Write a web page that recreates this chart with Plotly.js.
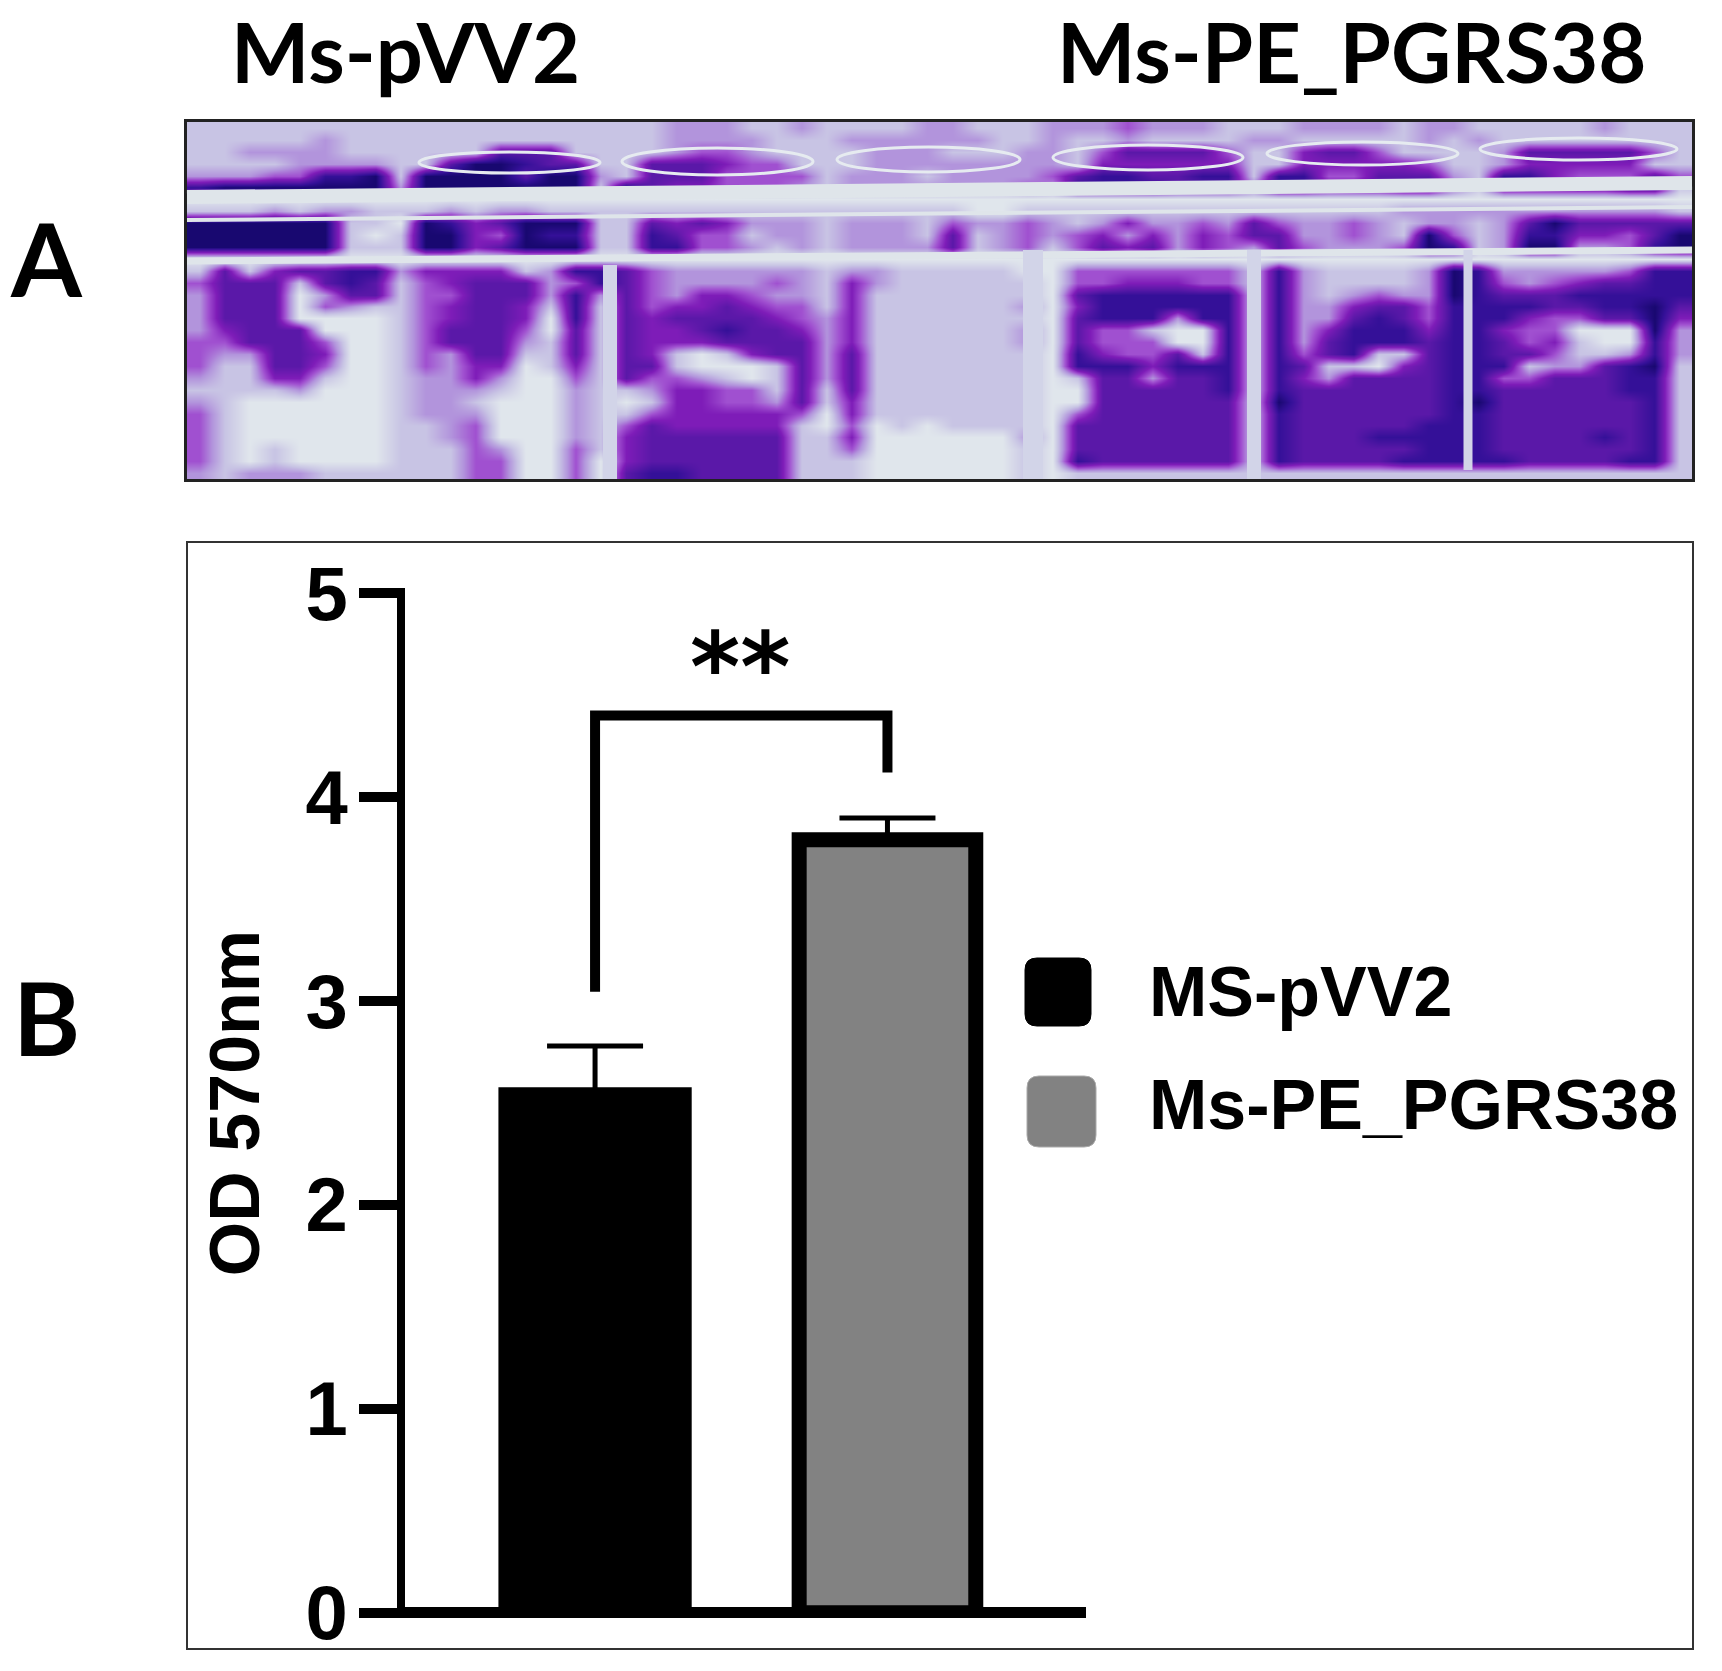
<!DOCTYPE html>
<html>
<head>
<meta charset="utf-8">
<script src="https://cdn.plot.ly/plotly-3.0.1.min.js"></script>
<style>
    html, body { margin: 0; padding: 0; background: #fff; }
</style>
</head>
<body>
<div id="chart1" style="width:1722px;height:1671px;"></div>
<script>
var W = 1722, H = 1671;

// panel B values
var groups = ["MS-pVV2", "Ms-PE_PGRS38"];
var means = [2.577, 3.79];
var errorsUp = [0.202, 0.107];
var errorsDown = [0.03, 0.015];
var barColors = ["#000000", "#828282"];
var bracketX = [groups[0], groups[0], groups[1], groups[1]];
var bracketY = [3.045, 4.40, 4.40, 4.12];
var yTicks = [0, 1, 2, 3, 4, 5];

// one string per row, groups are the wells from left to right
var plateRows = [
    "111111111 11111111 112221121 111221112 22322211 12222122 111112111",
    "111112111 11111111 112222111 222222112 11211112 21111121 211111111",
    "112222111 11155511 112332111 122211122 13555531 14553111 125555531",
    "111122221 15776551 155543311 122222222 14444441 14444431 124444411",
    "222336671 77775772 155533331 222122223 56655661 66335552 166433353",
    "677777772 77777771 754433321 222222232 66665553 66555663 155555661",
    "000000000 00000000 000000000 000000000 00000000 00000000 000000000",
    "111212211 12122111 111111111 111110011 11111111 11111222 222222221",
    "777777110 76457771 154542221 222132232 12422325 32232122 125755555",
    "777777101 77437661 165331221 222151232 34242435 52232173 126644357",
    "777777111 77457771 166332121 222251231 35452432 53222376 127722367",
    "000000000 00000000 000000000 000000000 00000000 00000000 000000000",
    "151455662 44441266 532222221 221111100 33333331 62111127 622222366",
    "355515651 34555236 532222321 421111110 33444331 62111127 632345566",
    "255502551 33555262 532443221 411111110 56666661 62123227 655566666",
    "255503211 34554161 534454331 411111120 46666661 62245536 666556675",
    "255500001 34554061 545555432 411111110 56662661 62256536 664335574",
    "245550001 35553051 544565542 411111120 53310061 62466646 643300072",
    "335553001 35552151 544455552 411111120 53330061 62566656 653410062",
    "322554001 32551151 541014552 511111110 64335161 63561156 655311262",
    "311553001 32440141 551000152 511111110 66646661 65110456 661225671",
    "211441001 22420031 533210152 511111110 15525561 64255556 633555661",
    "111120001 22210021 124433151 511111110 05555561 65555556 655555661",
    "210000001 22100021 014433251 411111110 05555551 75555556 755555561",
    "310000001 22200021 134444430 411111110 35555551 65555556 655555561",
    "310000001 12300021 354444410 301011110 55555551 65555566 655555561",
    "310000001 12300021 455555511 400000020 55555551 65556666 655556561",
    "310100001 11320031 455555511 300000010 55555551 65555566 655555561",
    "310100001 11330030 455555511 100000010 65555551 65555666 665555661",
    "212221111 11330030 566555511 100000010 11111111 11111111 111111111"
];
var plateLevels = [
    [0, "#e0e6ec"], [1 / 7, "#c8c4e4"], [2 / 7, "#b294dc"], [3 / 7, "#a050d0"],
    [4 / 7, "#7e1cb8"], [5 / 7, "#5a18a8"], [6 / 7, "#341098"], [1, "#180870"]
];
// well rims as left, right, top, bottom in pixels of the figure
var rims = [
    [419, 600, 152, 173], [622, 813, 148, 175], [837, 1020, 147, 172],
    [1053, 1243, 145, 170], [1267, 1458, 142, 165], [1480, 1677, 138, 160]
];
// plate bars as x0, y0, x1, y1, width, colour
var plateBars = [
    [187, 197, 1692, 183, 14, "#dfe5ea"], [187, 220, 1692, 207, 4, "#dfe5ea"], [187, 261, 1692, 250, 7, "#dfe5ea"],
    [610, 265, 610, 479, 14, "#d2d4e8"], [1033, 250, 1033, 479, 20, "#d2d4e8"],
    [1254, 250, 1254, 479, 14, "#d2d4e8"], [1468, 250, 1468, 470, 9, "#d2d4e8"]
];

var plateZ = plateRows.map(function(row) {
    return row.replace(/ /g, "").split("").map(Number);
});

function px(x) { return x / W; }
function py(y) { return 1 - y / H; }

function roundBox(x0, x1, y0, y1, r) {
    return "M" + px(x0 + r) + "," + py(y0) +
        " L" + px(x1 - r) + "," + py(y0) + " Q" + px(x1) + "," + py(y0) + " " + px(x1) + "," + py(y0 + r) +
        " L" + px(x1) + "," + py(y1 - r) + " Q" + px(x1) + "," + py(y1) + " " + px(x1 - r) + "," + py(y1) +
        " L" + px(x0 + r) + "," + py(y1) + " Q" + px(x0) + "," + py(y1) + " " + px(x0) + "," + py(y1 - r) +
        " L" + px(x0) + "," + py(y0 + r) + " Q" + px(x0) + "," + py(y0) + " " + px(x0 + r) + "," + py(y0) + " Z";
}

var barFont = "Liberation Sans, Arial, sans-serif";
var photoFont = "Lato, sans-serif";

var chartData = [{
    type: "bar",
    name: groups[0],
    x: [groups[0]],
    y: [means[0]],
    width: 0.661,
    marker: { color: barColors[0], line: { width: 0 } },
    error_y: { type: "data", symmetric: false, array: [errorsUp[0]], arrayminus: [errorsDown[0]], color: "#000", thickness: 5, width: 48 }
}, {
    type: "bar",
    name: groups[1],
    x: [groups[1]],
    y: [means[1]],
    width: 0.604,
    marker: { color: barColors[1], line: { color: "#000", width: 15 } },
    error_y: { type: "data", symmetric: false, array: [errorsUp[1]], arrayminus: [errorsDown[1]], color: "#000", thickness: 5, width: 48 }
}, {
    type: "scatter",
    mode: "lines",
    x: bracketX,
    y: bracketY,
    line: { color: "#000", width: 10 },
    hoverinfo: "skip"
}, {
    type: "heatmap",
    xaxis: "x2",
    yaxis: "y2",
    z: plateZ,
    zmin: 0,
    zmax: 7,
    zsmooth: "best",
    colorscale: plateLevels,
    showscale: false,
    hoverinfo: "skip"
}];

var shapes = [{
    type: "rect", xref: "paper", yref: "paper",
    x0: px(187), x1: px(1693), y0: py(542), y1: py(1649),
    line: { color: "#333", width: 2 }, fillcolor: "rgba(0,0,0,0)"
}, {
    type: "path", xref: "paper", yref: "paper",
    path: roundBox(1025, 1091, 958, 1026, 12),
    fillcolor: barColors[0], line: { color: "#000", width: 1 }
}, {
    type: "path", xref: "paper", yref: "paper",
    path: roundBox(1027, 1096, 1076, 1147, 12),
    fillcolor: barColors[1], line: { color: "#aaa", width: 1 }
}];
plateBars.forEach(function(b) {
    shapes.push({
        type: "line", xref: "paper", yref: "paper",
        x0: px(b[0]), y0: py(b[1]), x1: px(b[2]), y1: py(b[3]),
        line: { color: b[5], width: b[4] }
    });
});
rims.forEach(function(r) {
    shapes.push({
        type: "circle", xref: "paper", yref: "paper",
        x0: px(r[0]), x1: px(r[1]), y0: py(r[2]), y1: py(r[3]),
        line: { color: "#e6ebf0", width: 3 }, fillcolor: "rgba(0,0,0,0)"
    });
});

var annotations = [
    { text: "Ms-pVV2", x: px(405), y: py(51), font: { family: photoFont, size: 83, color: "#000", weight: 700 } },
    { text: "Ms-PE_PGRS38", x: px(1351), y: py(51), font: { family: photoFont, size: 83, color: "#000", weight: 700 } },
    { text: "A", x: px(46), y: py(257), font: { family: photoFont, size: 102, color: "#000", weight: 700 } },
    { text: "B", x: px(46), y: py(1017), font: { family: photoFont, size: 102, color: "#000", weight: 700 } },
    { text: "**", x: px(740), y: py(668), font: { family: "DejaVu Sans, sans-serif", size: 96, color: "#000", weight: 700 } },
    { text: groups[0], x: px(1147), xanchor: "left", y: py(992), font: { family: barFont, size: 70, color: "#000", weight: 700 } },
    { text: groups[1], x: px(1147), xanchor: "left", y: py(1105), font: { family: barFont, size: 70, color: "#000", weight: 700 } }
].map(function(a) {
    a.xref = "paper";
    a.yref = "paper";
    a.showarrow = false;
    a.yanchor = "middle";
    if (!a.xanchor) a.xanchor = "center";
    return a;
});

var chartLayout = {
    width: W,
    height: H,
    margin: { l: 0, r: 0, t: 0, b: 0 },
    paper_bgcolor: "#fff",
    plot_bgcolor: "rgba(0,0,0,0)",
    showlegend: false,
    barmode: "overlay",
    xaxis: {
        type: "category",
        domain: [px(405), px(1086)],
        range: [-0.65, 1.679],
        categoryarray: groups,
        showgrid: false,
        zeroline: false,
        showline: false,
        ticks: "",
        showticklabels: false
    },
    yaxis: {
        domain: [py(1618), py(588)],
        range: [-0.026, 5.025],
        tickvals: yTicks,
        ticks: "outside",
        ticklen: 38,
        tickwidth: 10,
        tickcolor: "#000",
        ticklabelstandoff: -4,
        tickfont: { family: barFont, size: 76, color: "#000", weight: 700 },
        showgrid: false,
        zeroline: true,
        zerolinecolor: "#000",
        zerolinewidth: 11,
        showline: true,
        linecolor: "#000",
        linewidth: 8,
        title: {
            text: "OD 570nm",
            standoff: 26,
            font: { family: barFont, size: 70, color: "#000", weight: 700 }
        }
    },
    xaxis2: {
        domain: [px(187), px(1692)],
        range: [-0.5, 59.5],
        anchor: "y2",
        showgrid: false,
        zeroline: false,
        showline: true,
        mirror: true,
        linecolor: "#222",
        linewidth: 3,
        ticks: "",
        showticklabels: false
    },
    yaxis2: {
        domain: [py(479), py(122)],
        range: [29.5, -0.5],
        anchor: "x2",
        showgrid: false,
        zeroline: false,
        showline: true,
        mirror: true,
        linecolor: "#222",
        linewidth: 3,
        ticks: "",
        showticklabels: false
    },
    shapes: shapes,
    annotations: annotations
};

var chartConfig = { displayModeBar: false, responsive: false };

Plotly.newPlot("chart1", chartData, chartLayout, chartConfig);
</script>
</body>
</html>
